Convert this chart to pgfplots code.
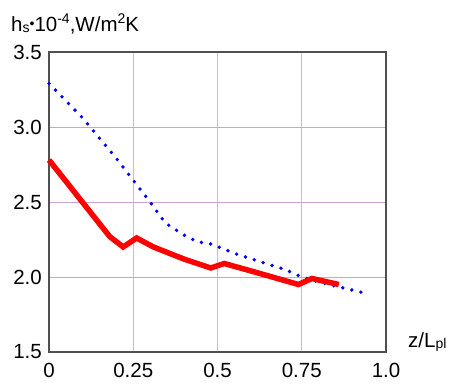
\documentclass[border=0pt]{standalone}
\usepackage{pgfplots}
\pgfplotsset{compat=1.18}
\usepackage{fontspec}
\setmainfont{Liberation Sans}
\definecolor{gridh}{RGB}{200,165,210}
\definecolor{gridv}{RGB}{200,190,205}
\definecolor{framec}{RGB}{80,80,80}
\begin{document}
\fontsize{20.5}{24}\selectfont
\begin{tikzpicture}
\begin{axis}[
  at={(0,0)}, anchor=south west,
  scale only axis,
  width=337pt, height=300pt,
  xmin=0, xmax=1, ymin=1.5, ymax=3.5,
  axis line style={framec, line width=2pt},
  xtick={0,0.25,0.5,0.75,1},
  xticklabels={0,0.25,0.5,0.75,1.0},
  ytick={1.5,2,2.5,3,3.5},
  yticklabels={1.5,2.0,2.5,3.0,3.5},
  major tick length=0pt,
  xmajorgrids, ymajorgrids,
  x grid style={gridv, line width=0.9pt},
  y grid style={gridh, line width=0.9pt},
  /pgf/number format/assume math mode=true,
  ticklabel style={font=\fontsize{20.5}{24}\selectfont, inner sep=0pt},
  xticklabel style={anchor=north, yshift=-11pt},
  yticklabel style={anchor=east, xshift=-7pt},
  clip=false,
]
\addplot[blue, line width=3.8pt, line cap=round, dash pattern=on 0pt off 9.3pt] coordinates {
 (0,3.29) (0.10,3.06) (0.20,2.79) (0.30,2.50) (0.345,2.36) (0.40,2.28)
 (0.44,2.235) (0.48,2.22) (0.56,2.15) (0.70,2.05) (0.75,2.00) (0.83,1.95) (0.943,1.89)
};
\addplot[red, line width=5.5pt, line join=miter] coordinates {
 (0,2.78) (0.06,2.61) (0.12,2.44) (0.18,2.27) (0.22,2.20) (0.26,2.26) (0.31,2.20)
 (0.40,2.12) (0.44,2.09) (0.48,2.06) (0.52,2.09) (0.60,2.04) (0.74,1.95) (0.78,1.99) (0.86,1.95)
};
\end{axis}
\node[anchor=base west, inner sep=0pt] at (-38pt,320pt)
  {h\raisebox{-1pt}{\fontsize{14}{14}\selectfont s}\raisebox{3.5pt}{\fontsize{14}{14}\selectfont •}10\raisebox{8pt}{\fontsize{14}{14}\selectfont -4},W/m\raisebox{8pt}{\fontsize{14}{14}\selectfont 2}K};
\node[anchor=base west, inner sep=0pt] at (359pt,5pt)
  {z/L\raisebox{-2pt}{\fontsize{14}{14}\selectfont pl}};
\path[use as bounding box] (-49pt,-33pt) rectangle (400pt,352pt);
\end{tikzpicture}
\end{document}
